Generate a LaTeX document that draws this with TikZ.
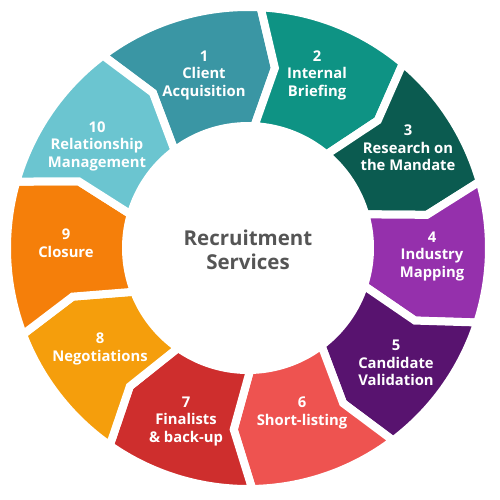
\documentclass[tikz,border=0pt]{standalone}
\usepackage{fontspec}
\setmainfont{Open Sans}
\usepackage{tikz}

\definecolor{cAcq}{HTML}{3A96A4}
\definecolor{cBrief}{HTML}{0E9384}
\definecolor{cRes}{HTML}{0B5B50}
\definecolor{cMap}{HTML}{9530AC}
\definecolor{cVal}{HTML}{58136F}
\definecolor{cShort}{HTML}{EE5350}
\definecolor{cFinal}{HTML}{CE2E2D}
\definecolor{cNeg}{HTML}{F59E0C}
\definecolor{cClose}{HTML}{F57F0A}
\definecolor{cRel}{HTML}{6BC5D0}
\definecolor{cHub}{HTML}{555555}

\tikzset{
  seg/.style={draw=white, line width=8pt, line join=miter},
  lbl/.style={text=white, font=\bfseries\fontsize{14.8}{17.5}\selectfont, align=center, inner sep=0pt},
  hub/.style={text=cHub, font=\bfseries\fontsize{20.5}{24}\selectfont, align=center, inner sep=0pt}
}

\begin{document}
\begin{tikzpicture}[x=1pt,y=1pt]
\useasboundingbox (-248,-251) rectangle (252,248);
% ring of ten arrow segments
\path[seg,fill=cAcq]   (127:122) -- (121.5:182) -- (127:241) arc[start angle=127,end angle=87,radius=241] -- (81.5:182) -- (87:122) arc[start angle=87,end angle=127,radius=122] -- cycle;
\path[seg,fill=cBrief] (87:122) -- (81.5:182) -- (87:241) arc[start angle=87,end angle=50,radius=241] -- (44.5:182) -- (50:122) arc[start angle=50,end angle=87,radius=122] -- cycle;
\path[seg,fill=cRes]   (50:122) -- (44.5:182) -- (50:241) arc[start angle=50,end angle=16,radius=241] -- (10.5:182) -- (16:122) arc[start angle=16,end angle=50,radius=122] -- cycle;
\path[seg,fill=cMap]   (16:122) -- (10.5:182) -- (16:241) arc[start angle=16,end angle=-18,radius=241] -- (-23.5:182) -- (-18:122) arc[start angle=-18,end angle=16,radius=122] -- cycle;
\path[seg,fill=cVal]   (-18:122) -- (-23.5:182) -- (-18:241) arc[start angle=-18,end angle=-53,radius=241] -- (-58.5:182) -- (-53:122) arc[start angle=-53,end angle=-18,radius=122] -- cycle;
\path[seg,fill=cShort] (-53:122) -- (-58.5:182) -- (-53:241) arc[start angle=-53,end angle=-89,radius=241] -- (-94.5:182) -- (-89:122) arc[start angle=-89,end angle=-53,radius=122] -- cycle;
\path[seg,fill=cFinal] (-89:122) -- (-94.5:182) -- (-89:241) arc[start angle=-89,end angle=-125,radius=241] -- (-130.5:182) -- (-125:122) arc[start angle=-125,end angle=-89,radius=122] -- cycle;
\path[seg,fill=cNeg]   (-125:122) -- (-130.5:182) -- (-125:241) arc[start angle=-125,end angle=-159,radius=241] -- (-164.5:182) -- (-159:122) arc[start angle=-159,end angle=-125,radius=122] -- cycle;
\path[seg,fill=cClose] (-159:122) -- (-164.5:182) -- (-159:241) arc[start angle=-159,end angle=-196,radius=241] -- (-201.5:182) -- (-196:122) arc[start angle=-196,end angle=-159,radius=122] -- cycle;
\path[seg,fill=cRel]   (-196:122) -- (-201.5:182) -- (-196:241) arc[start angle=-196,end angle=-233,radius=241] -- (-238.5:182) -- (-233:122) arc[start angle=-233,end angle=-196,radius=122] -- cycle;
% labels
\node[lbl] (acq)   at (-44,173)  {1\\Client\\Acquisition};
\node[lbl] (brief) at (69,173)   {2\\Internal\\Briefing};
\node[lbl] (res)   at (160,100)  {3\\Research on\\the Mandate};
\node[lbl] (map)   at (184,-8)   {4\\Industry\\Mapping};
\node[lbl] (val)   at (148,-115) {5\\Candidate\\Validation};
\node[lbl] (short) at (54,-165)  {6\\Short-listing};
\node[lbl] (final) at (-62,-173) {7\\Finalists\\\& back-up};
\node[lbl] (neg)   at (-148,-101){8\\Negotiations};
\node[lbl] (close) at (-182,5)   {9\\Closure};
\node[lbl] (rel)   at (-151,102) {10\\Relationship\\Management};
\node[hub] (core)  at (0,-2)     {Recruitment\\Services};
\end{tikzpicture}
\end{document}
